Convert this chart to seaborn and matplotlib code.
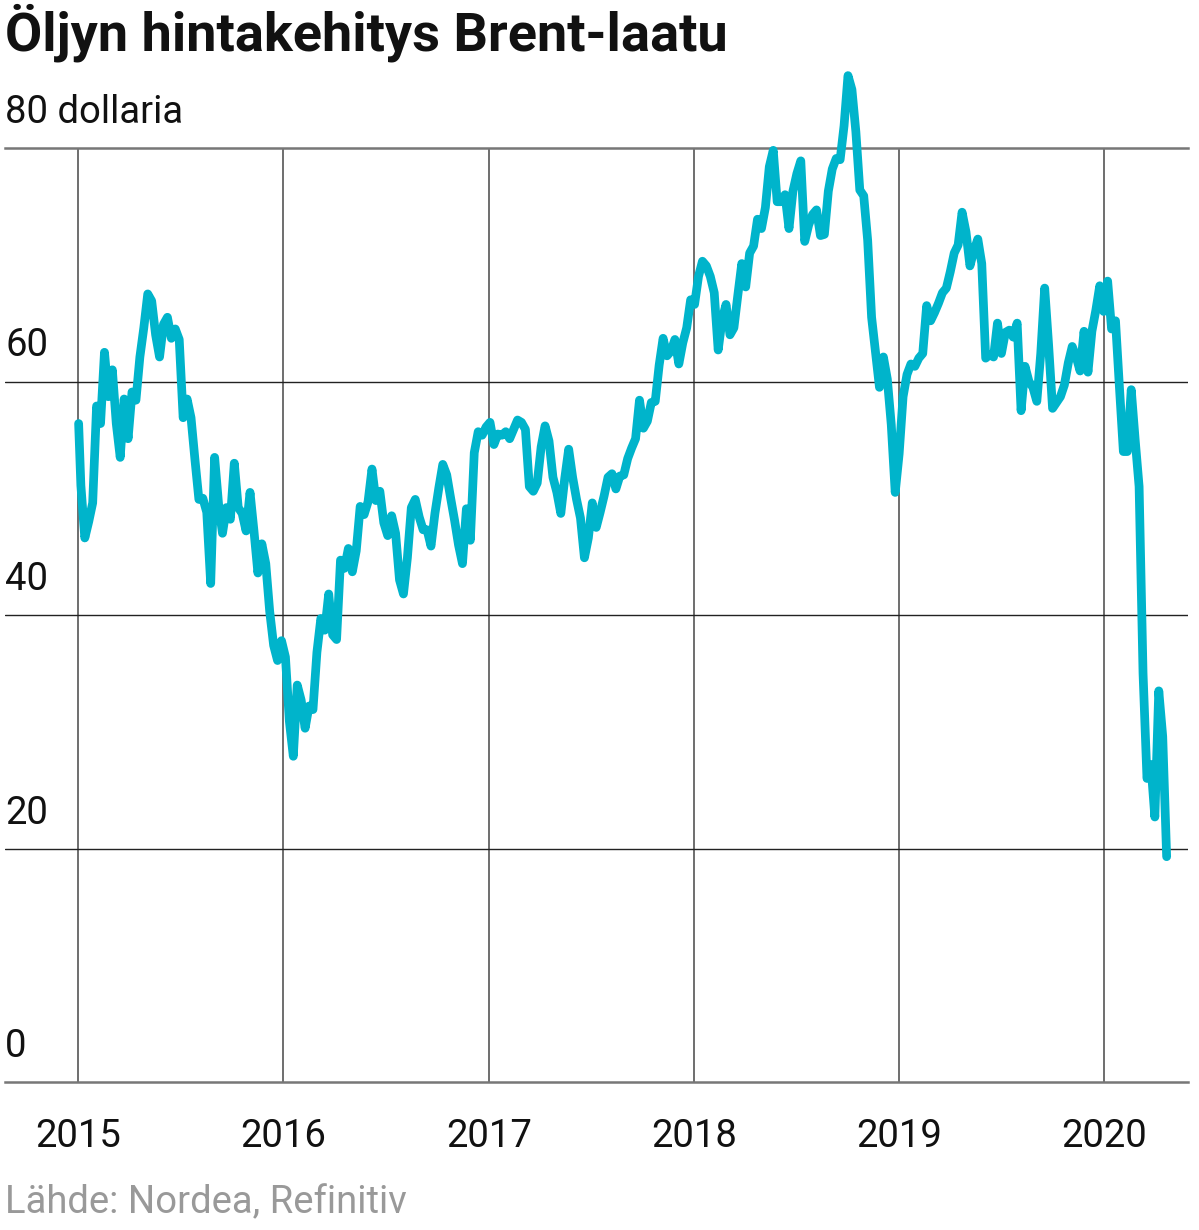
import matplotlib
matplotlib.use("Agg")
import matplotlib.pyplot as plt
import matplotlib.dates as mdates
import seaborn as sns
import pandas as pd
import numpy as np

# ---- data (weekly Brent closes, USD/barrel) ----
v2015 = [56.4, 51.1, 46.6, 48.0, 49.6, 57.9, 56.4, 62.5, 58.7, 61.0, 56.4, 53.5, 58.5, 55.1,
         59.1, 58.4, 62.1, 64.6, 67.5, 66.9, 64.0, 62.1, 64.9, 65.5, 63.7, 64.5, 63.6, 56.9,
         58.5, 56.9, 53.3, 49.9, 50.0, 48.8, 42.7, 53.5, 49.5, 47.0, 49.2, 48.2, 53.0, 49.2,
         48.7, 47.2, 50.5, 47.2, 43.6, 46.1, 44.4, 40.3, 37.4, 36.1, 37.8]
v2016 = [36.4, 30.9, 27.9, 34.0, 32.7, 30.3, 32.2, 31.9, 36.8, 39.7, 38.7, 41.8, 38.3,
         37.9, 44.7, 44.0, 45.7, 43.7, 45.5, 49.3, 48.6, 49.7, 52.5, 49.8, 50.6, 47.9,
         46.8, 48.5, 47.0, 43.0, 41.8, 44.9, 49.2, 49.9, 48.4, 47.3, 47.3, 45.9, 48.7,
         50.9, 52.9, 52.0, 50.0, 48.1, 46.0, 44.4, 49.1, 46.4, 53.9, 55.7, 55.4, 56.1]
v2017 = [56.5, 54.6, 55.5, 55.4, 55.7, 55.1, 55.9, 56.7, 56.5, 55.9, 51.0, 50.6, 51.3,
         54.4, 56.2, 54.9, 51.8, 50.5, 48.7, 51.7, 54.2, 51.8, 49.9, 48.3, 44.9, 46.6,
         49.6, 47.5, 48.8, 50.2, 51.8, 52.1, 50.8, 51.9, 52.0, 53.4, 54.3, 55.1, 58.4,
         56.0, 56.6, 58.2, 58.3, 61.4, 63.7, 62.2, 62.6, 63.6, 61.5, 63.3, 64.6, 67.0]
v2018 = [66.6, 69.0, 70.3, 69.9, 69.0, 67.6, 62.7, 65.3, 66.6, 64.0, 64.6, 67.4, 70.1,
         68.1, 71.0, 71.6, 73.9, 73.1, 74.9, 78.4, 79.8, 75.4, 75.4, 76.0, 73.1, 76.3,
         77.8, 78.9, 72.0, 73.4, 74.3, 74.7, 72.5, 72.6, 76.3, 78.2, 79.1, 79.0, 81.9,
         86.2, 85.0, 81.4, 76.4, 75.9, 72.1, 65.5, 62.5, 59.5, 62.1, 60.2, 56.3, 50.5]
v2019 = [53.8, 58.7, 60.6, 61.5, 61.3, 62.0, 62.4, 66.5, 65.2, 65.9, 66.7, 67.6, 68.0,
         69.4, 71.0, 71.7, 74.5, 72.8, 69.9, 71.2, 72.2, 70.1, 62.0, 62.3, 62.1, 65.0,
         62.4, 64.2, 64.4, 63.8, 65.0, 57.5, 61.3, 60.0, 59.5, 58.3, 62.4, 68.0, 63.1,
         57.7, 58.2, 58.7, 59.7, 61.6, 63.0, 62.1, 60.9, 64.3, 60.8, 64.3, 66.1, 68.2, 66.0]
v2020 = [68.6, 64.5, 65.2, 59.5, 54.0, 54.0, 59.3, 55.0, 51.0, 35.0, 26.0, 27.2, 22.7,
         33.5, 29.6, 19.3]

prices = v2015 + v2016 + v2017 + v2018 + v2019 + v2020
first_date = "2015-01-02"
weekly_start = "2015-01-06"

year_ticks = ["2015", "2016", "2017", "2018", "2019", "2020"]
y_ticks = [0, 20, 40, 60, 80]
y_labels = ["0", "20", "40", "60", "80 dollaria"]

title = "Öljyn hintakehitys Brent-laatu"
source = "Lähde: Nordea, Refinitiv"
line_color = "#00B4CB"

dates = [pd.Timestamp(first_date)] + list(
    pd.date_range(weekly_start, periods=len(prices) - 1, freq="7D"))
df = pd.DataFrame({"date": dates, "price": prices})

# ---- style ----
sns.set_theme(style="white")
plt.rcParams["font.family"] = ["Roboto", "DejaVu Sans"]

W, H = 1199, 1230
fig = plt.figure(figsize=(W / 100, H / 100), dpi=100)
ax = fig.add_axes([5 / W, (H - 1082) / H, (1188 - 5) / W, (1082 - 148) / H])

sns.lineplot(data=df, x="date", y="price", ax=ax, color=line_color, linewidth=6.3,
             zorder=5)
for ln in ax.lines:
    ln.set_clip_on(False)
    ln.set_solid_capstyle("round")
    ln.set_solid_joinstyle("round")

ax.set_xlim(mdates.date2num(pd.Timestamp("2014-08-24")),
            mdates.date2num(pd.Timestamp("2020-05-29")))
ax.set_ylim(0, 80)

# horizontal grid
ax.set_yticks([20, 40, 60])
ax.set_yticklabels([])
ax.yaxis.grid(True, color="#222222", linewidth=1.0)
# vertical grid at years
xt = [mdates.date2num(pd.Timestamp(f"{y}-01-01")) for y in year_ticks]
ax.set_xticks(xt)
ax.set_xticklabels(year_ticks, fontsize=27.5, color="#111111")
ax.xaxis.grid(True, color="#555555", linewidth=1.2)
ax.tick_params(axis="both", length=0)
ax.tick_params(axis="x", pad=26)
ax.set_xlabel("")
ax.set_ylabel("")

for s in ["left", "right"]:
    ax.spines[s].set_visible(False)
for s in ["top", "bottom"]:
    ax.spines[s].set_visible(True)
    ax.spines[s].set_color("#777777")
    ax.spines[s].set_linewidth(1.8)

for v, lab in zip(y_ticks, y_labels):
    ax.annotate(lab, xy=(0, v), xycoords=("axes fraction", "data"),
                xytext=(0, 18), textcoords="offset points",
                ha="left", va="baseline", fontsize=27.5, color="#111111")

fig.text(5 / W, 1 - 50 / H, title, fontsize=39, fontweight="bold",
         ha="left", va="baseline", color="#111111")
fig.text(5 / W, 1 - 1213 / H, source, fontsize=27.5, color="#999999",
         ha="left", va="baseline")

fig.savefig("out.png", dpi=100)
